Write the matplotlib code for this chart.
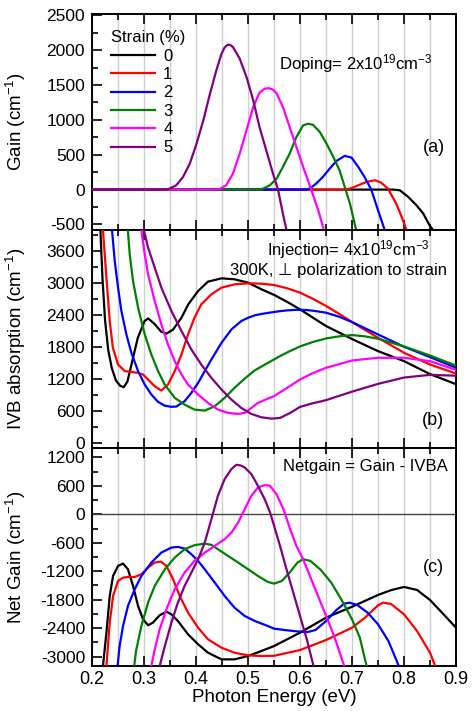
import matplotlib
matplotlib.use("Agg")
import matplotlib.pyplot as plt
from matplotlib.ticker import MultipleLocator

plt.rcParams['font.family'] = ['Liberation Sans', 'DejaVu Sans']
plt.rcParams['mathtext.default'] = 'regular'
plt.rcParams['axes.unicode_minus'] = False

strains = ['0', '1', '2', '3', '4', '5']
colors = ['black', 'red', 'blue', 'green', 'magenta', 'purple']

# (a) material gain, cm^-1
gain_0_e = [0.20, 0.765, 0.779, 0.792, 0.808, 0.824, 0.837, 0.849, 0.856, 0.87]
gain_0 = [0, 0, 0, -10, -105, -225, -344, -511, -583, -780]
gain_1_e = [0.20, 0.683, 0.696, 0.712, 0.728, 0.744, 0.756, 0.769, 0.785, 0.795, 0.805, 0.815]
gain_1 = [0, 0, 14, 62, 110, 134, 100, 14, -201, -383, -583, -780]
gain_2_e = [0.20, 0.609, 0.619, 0.631, 0.644, 0.657, 0.670, 0.686, 0.699, 0.712, 0.724, 0.737,
            0.750, 0.763, 0.775]
gain_2 = [0, 0, 14, 86, 182, 301, 411, 485, 459, 325, 182, 0, -296, -583, -850]
gain_3_e = [0.20, 0.522, 0.529, 0.542, 0.555, 0.567, 0.580, 0.593, 0.606, 0.615, 0.625, 0.638,
            0.651, 0.664, 0.676, 0.686, 0.696, 0.708, 0.72]
gain_3 = [0, 0, 14, 62, 158, 325, 516, 755, 922, 945, 930, 827, 660, 469, 277, 38, -201, -583, -900]
gain_4_e = [0.20, 0.439, 0.446, 0.458, 0.471, 0.484, 0.497, 0.510, 0.522, 0.532, 0.540, 0.548,
            0.555, 0.567, 0.580, 0.593, 0.606, 0.622, 0.635, 0.646, 0.66]
gain_4 = [0, 0, 10, 62, 230, 516, 851, 1186, 1390, 1448, 1455, 1435, 1380, 1186, 899, 612, 325,
          -10, -296, -583, -900]
gain_5_e = [0.20, 0.343, 0.349, 0.362, 0.375, 0.388, 0.401, 0.414, 0.426, 0.439, 0.449, 0.455,
            0.461, 0.466, 0.471, 0.484, 0.497, 0.510, 0.522, 0.535, 0.548, 0.558, 0.567, 0.574, 0.585]
gain_5 = [0, 0, 14, 62, 182, 373, 660, 994, 1352, 1711, 1950, 2040, 2080, 2075, 2046, 1879, 1616,
          1281, 899, 564, 229, -10, -344, -583, -900]

# (b) intervalence band absorption, cm^-1
ivb_0_e = [0.212, 0.216, 0.220, 0.225, 0.231, 0.238, 0.246, 0.254, 0.261, 0.268, 0.276, 0.288,
           0.301, 0.308, 0.321, 0.333, 0.343, 0.356, 0.372, 0.385, 0.404, 0.423, 0.449, 0.474,
           0.50, 0.526, 0.55, 0.575, 0.60, 0.625, 0.65, 0.70, 0.75, 0.80, 0.85, 0.90]
ivb_0 = [4600, 4000, 3100, 2300, 1750, 1400, 1170, 1070, 1044, 1150, 1480, 1973, 2288, 2337, 2225,
         2087, 2049, 2130, 2351, 2601, 2854, 3029, 3091, 3073, 3010, 2884, 2780, 2650, 2507, 2350,
         2194, 1950, 1722, 1534, 1290, 1100]
ivb_1_e = [0.217, 0.221, 0.2276, 0.234, 0.240, 0.25, 0.263, 0.2756, 0.288, 0.298, 0.3077, 0.3205,
           0.3333, 0.346, 0.359, 0.372, 0.3846, 0.397, 0.41, 0.4295, 0.449, 0.474, 0.50, 0.526,
           0.55, 0.575, 0.60, 0.625, 0.65, 0.675, 0.70, 0.75, 0.80, 0.85, 0.90]
ivb_1 = [4600, 3985, 3105, 2288, 1785, 1470, 1345, 1332, 1313, 1282, 1188, 1063, 980, 1093, 1345,
         1660, 2036, 2350, 2601, 2790, 2916, 2978, 2997, 2991, 2966, 2905, 2822, 2705, 2571, 2425,
         2269, 1973, 1691, 1470, 1300]
ivb_2_e = [0.235, 0.2385, 0.2436, 0.25, 0.2564, 0.266, 0.2756, 0.2885, 0.3013, 0.3141, 0.327,
           0.3397, 0.352, 0.362, 0.378, 0.391, 0.404, 0.4167, 0.4295, 0.449, 0.468, 0.487, 0.50,
           0.513, 0.525, 0.538, 0.55, 0.5625, 0.575, 0.5875, 0.60, 0.6125, 0.625, 0.65, 0.675,
           0.70, 0.75, 0.80, 0.85, 0.90]
ivb_2 = [4600, 3985, 3419, 2916, 2477, 2036, 1691, 1345, 1093, 905, 767, 697, 675, 679, 780, 937,
         1125, 1345, 1565, 1879, 2130, 2288, 2350, 2395, 2420, 2440, 2458, 2475, 2488, 2496, 2500,
         2495, 2482, 2445, 2370, 2269, 2036, 1804, 1609, 1410]
ivb_3_e = [0.266, 0.269, 0.2724, 0.2788, 0.2885, 0.3013, 0.314, 0.327, 0.3397, 0.359, 0.378, 0.397,
           0.4167, 0.436, 0.455, 0.474, 0.4936, 0.513, 0.538, 0.558, 0.58, 0.60, 0.625, 0.65,
           0.675, 0.70, 0.725, 0.75, 0.80, 0.85, 0.90]
ivb_3 = [4600, 3985, 3544, 3042, 2539, 2036, 1659, 1345, 1093, 843, 716, 622, 603, 686, 843, 1031,
         1206, 1360, 1500, 1610, 1720, 1810, 1895, 1960, 2000, 2024, 2000, 1955, 1810, 1640, 1450]
ivb_4_e = [0.292, 0.295, 0.3013, 0.3077, 0.3205, 0.3333, 0.346, 0.359, 0.372, 0.3846, 0.404, 0.423,
           0.442, 0.462, 0.481, 0.4936, 0.5064, 0.519, 0.538, 0.55, 0.575, 0.60, 0.625, 0.65,
           0.70, 0.75, 0.80, 0.85, 0.90]
ivb_4 = [4600, 3985, 3544, 3167, 2665, 2225, 1847, 1534, 1282, 1093, 905, 748, 622, 560, 541, 560,
         654, 748, 829, 874, 1030, 1188, 1310, 1408, 1546, 1597, 1597, 1534, 1370]
ivb_5_e = [0.293, 0.30, 0.3077, 0.3205, 0.3333, 0.3526, 0.372, 0.391, 0.41, 0.4295, 0.449, 0.468,
           0.487, 0.5064, 0.5256, 0.545, 0.5615, 0.581, 0.60, 0.62, 0.65, 0.70, 0.75, 0.80, 0.85,
           0.90]
ivb_5 = [4300, 3985, 3670, 3293, 2916, 2477, 2100, 1753, 1470, 1220, 999, 811, 654, 541, 478, 452,
         465, 560, 673, 730, 800, 960, 1106, 1225, 1276, 1260]

# (c) net gain = gain - IVBA, cm^-1
net_0_e = [0.218, 0.221, 0.2276, 0.234, 0.2404, 0.25, 0.2596, 0.269, 0.2788, 0.2885, 0.298, 0.3077,
           0.317, 0.33, 0.343, 0.3526, 0.365, 0.3846, 0.404, 0.423, 0.449, 0.474, 0.50, 0.5256,
           0.55, 0.60, 0.65, 0.70, 0.75, 0.775, 0.80, 0.825, 0.85, 0.876, 0.90]
net_0 = [-3600, -3201, -2497, -1722, -1300, -1088, -1039, -1158, -1511, -1933, -2215, -2341, -2285,
         -2130, -2053, -2109, -2250, -2532, -2743, -2920, -3060, -3060, -2990, -2884, -2779, -2497,
         -2180, -1950, -1701, -1600, -1532, -1595, -1807, -2109, -2391]
net_1_e = [0.224, 0.2276, 0.234, 0.2404, 0.25, 0.2596, 0.269, 0.282, 0.2949, 0.3077, 0.3205, 0.332,
           0.343, 0.3558, 0.3686, 0.3846, 0.404, 0.423, 0.449, 0.474, 0.50, 0.5256, 0.55, 0.60,
           0.65, 0.70, 0.725, 0.75, 0.76, 0.775, 0.80, 0.825, 0.85, 0.86, 0.87]
net_1 = [-3600, -3201, -2285, -1722, -1405, -1335, -1321, -1321, -1264, -1124, -1018, -997, -1088,
         -1369, -1722, -2075, -2392, -2637, -2814, -2920, -2975, -2990, -2985, -2863, -2652, -2392,
         -2180, -1919, -1863, -1891, -2109, -2462, -2920, -3201, -3500]
net_2_e = [0.246, 0.249, 0.253, 0.2596, 0.269, 0.282, 0.2949, 0.314, 0.3333, 0.3526, 0.3654, 0.378,
           0.391, 0.404, 0.4167, 0.436, 0.455, 0.474, 0.4936, 0.513, 0.538, 0.55, 0.575, 0.60,
           0.615, 0.63, 0.65, 0.67, 0.685, 0.695, 0.71, 0.73, 0.75, 0.77, 0.79, 0.80]
net_2 = [-3600, -3201, -2779, -2356, -1933, -1581, -1300, -1018, -807, -701, -687, -722, -842, -983,
         -1159, -1440, -1722, -1969, -2145, -2250, -2356, -2412, -2447, -2476, -2483, -2440, -2250,
         -2018, -1885, -1863, -1912, -2075, -2320, -2673, -3201, -3500]
net_3_e = [0.278, 0.281, 0.285, 0.2949, 0.3077, 0.3205, 0.34, 0.359, 0.378, 0.397, 0.4167, 0.4295,
           0.442, 0.4615, 0.481, 0.50, 0.519, 0.538, 0.55, 0.565, 0.58, 0.595, 0.606, 0.62, 0.64,
           0.66, 0.68, 0.70, 0.715, 0.728, 0.74]
net_3 = [-3600, -3201, -2857, -2356, -1863, -1511, -1158, -913, -735, -651, -617, -644, -735, -877,
         -1018, -1158, -1300, -1426, -1462, -1405, -1229, -1018, -947, -983, -1173, -1440, -1807,
         -2215, -2600, -3201, -3600]
net_4_e = [0.31, 0.314, 0.3205, 0.33, 0.343, 0.359, 0.378, 0.397, 0.4167, 0.436, 0.455, 0.468,
           0.481, 0.4936, 0.5064, 0.519, 0.532, 0.542, 0.555, 0.568, 0.581, 0.593, 0.606, 0.619,
           0.632, 0.645, 0.658, 0.67, 0.685, 0.695]
net_4 = [-3600, -3201, -2857, -2426, -2004, -1581, -1229, -983, -807, -666, -525, -384, -173, 110,
         391, 567, 617, 605, 420, 110, -313, -666, -947, -1300, -1652, -2004, -2356, -2709, -3201,
         -3500]
net_5_e = [0.325, 0.33, 0.34, 0.3526, 0.365, 0.378, 0.391, 0.404, 0.4167, 0.4295, 0.442, 0.455,
           0.468, 0.4776, 0.486, 0.4936, 0.5064, 0.519, 0.532, 0.543, 0.5615, 0.574, 0.587, 0.60,
           0.613, 0.626, 0.635]
net_5 = [-3600, -3201, -2779, -2285, -1863, -1511, -1229, -947, -595, -102, 391, 743, 955, 1046,
         1030, 990, 849, 602, 320, 20, -666, -1159, -1652, -2145, -2637, -3201, -3550]

gain_e = [gain_0_e, gain_1_e, gain_2_e, gain_3_e, gain_4_e, gain_5_e]
gain = [gain_0, gain_1, gain_2, gain_3, gain_4, gain_5]
ivb_e = [ivb_0_e, ivb_1_e, ivb_2_e, ivb_3_e, ivb_4_e, ivb_5_e]
ivb = [ivb_0, ivb_1, ivb_2, ivb_3, ivb_4, ivb_5]
net_e = [net_0_e, net_1_e, net_2_e, net_3_e, net_4_e, net_5_e]
net = [net_0, net_1, net_2, net_3, net_4, net_5]

fig = plt.figure(figsize=(4.77, 7.11), dpi=100)
left, width = 0.193, 0.763
ax_a = fig.add_axes([left, 0.6765, width, 0.3038])
ax_b = fig.add_axes([left, 0.3699, width, 0.3066])
ax_c = fig.add_axes([left, 0.0633, width, 0.3066])


def style(ax, ylim, major, minor, ylabel):
    ax.set_xlim(0.2, 0.9)
    ax.set_ylim(*ylim)
    ax.xaxis.set_major_locator(MultipleLocator(0.1))
    ax.xaxis.set_minor_locator(MultipleLocator(0.05))
    ax.yaxis.set_major_locator(MultipleLocator(major))
    ax.yaxis.set_minor_locator(MultipleLocator(minor))
    ax.grid(True, which='both', axis='x', color='#cfcfcf', lw=1.0, zorder=0)
    ax.tick_params(which='both', direction='in', top=True, right=False, labelsize=12.5, width=1.2)
    ax.tick_params(which='major', length=7)
    ax.tick_params(which='minor', length=4.5)
    ax.tick_params(axis='y', pad=5)
    for s in ax.spines.values():
        s.set_linewidth(1.4)
    ax.set_ylabel(ylabel, fontsize=13.5)
    ax.yaxis.set_label_coords(-0.175, 0.5)


for i in range(6):
    ax_a.plot(gain_e[i], gain[i], color=colors[i], lw=1.6, label=strains[i], zorder=3)
    ax_b.plot(ivb_e[i], ivb[i], color=colors[i], lw=1.6, zorder=3)
    ax_c.plot(net_e[i], net[i], color=colors[i], lw=1.6, zorder=3)

style(ax_a, (-580, 2520), 500, 250, 'Gain (cm$^{-1}$)')
style(ax_b, (-100, 4000), 600, 300, 'IVB absorption (cm$^{-1}$)')
style(ax_c, (-3200, 1400), 600, 300, 'Net Gain (cm$^{-1}$)')
ax_a.tick_params(labelbottom=False)
ax_b.tick_params(labelbottom=False)
ax_c.tick_params(axis='x', labelsize=13)
ax_c.axhline(0, color='#444444', lw=1.0, zorder=2)
ax_c.set_xlabel('Photon Energy (eV)', fontsize=13.5, labelpad=1)

leg = ax_a.legend(title='Strain (%)', loc='upper left', bbox_to_anchor=(0.035, 0.955),
                  frameon=False, fontsize=12, title_fontsize=12, handlelength=2.6,
                  handletextpad=0.5, labelspacing=0.2, borderaxespad=0)
leg._legend_box.align = 'left'

ax_a.text(0.937, 0.77, 'Doping= 2x10$^{19}$cm$^{-3}$', transform=ax_a.transAxes,
          ha='right', va='center', fontsize=12)
ax_a.text(0.94, 0.384, '(a)', transform=ax_a.transAxes, ha='center', va='center', fontsize=13)
ax_b.text(0.929, 0.91, 'Injection= 4x10$^{19}$cm$^{-3}$', transform=ax_b.transAxes,
          ha='right', va='center', fontsize=12)
ax_b.text(0.974, 0.812, '300K, \u22a5 polarization to strain', transform=ax_b.transAxes,
          ha='right', va='center', fontsize=12)
ax_b.text(0.937, 0.128, '(b)', transform=ax_b.transAxes, ha='center', va='center', fontsize=13)
ax_c.text(0.978, 0.914, 'Netgain = Gain - IVBA', transform=ax_c.transAxes,
          ha='right', va='center', fontsize=12)
ax_c.text(0.937, 0.45, '(c)', transform=ax_c.transAxes, ha='center', va='center', fontsize=13)

fig.savefig('out.png', dpi=100)
